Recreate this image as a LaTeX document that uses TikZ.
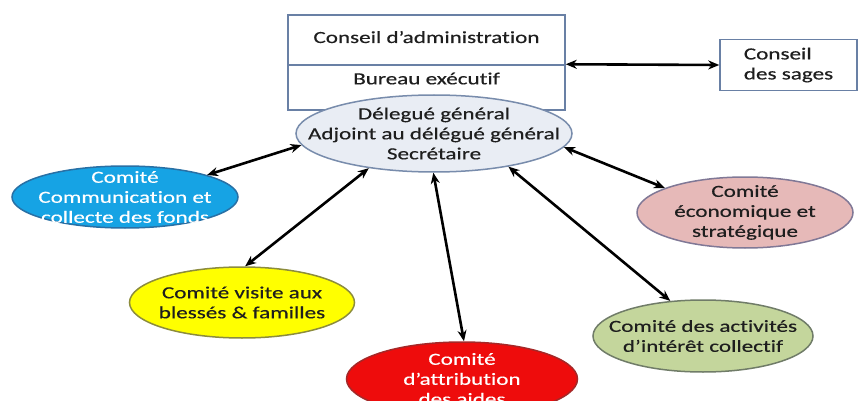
\documentclass[tikz,border=0pt]{standalone}
\usepackage{fontspec}
\setmainfont{Carlito}[FakeStretch=1.36, FakeBold=0.4, Ligatures=CommonOff]
\usetikzlibrary{shapes.geometric,arrows.meta}
\definecolor{boxline}{RGB}{105,128,165}
\definecolor{cenfill}{RGB}{233,237,244}
\definecolor{cenline}{RGB}{120,140,172}
\definecolor{bluefill}{RGB}{22,163,228}
\definecolor{blueline}{RGB}{40,112,165}
\definecolor{yelfill}{RGB}{255,255,0}
\definecolor{yelline}{RGB}{140,140,60}
\definecolor{redfill}{RGB}{238,12,12}
\definecolor{redline}{RGB}{165,40,40}
\definecolor{grnfill}{RGB}{196,214,156}
\definecolor{grnline}{RGB}{112,124,104}
\definecolor{pnkfill}{RGB}{230,185,184}
\definecolor{pnkline}{RGB}{128,120,150}
\definecolor{txtdark}{RGB}{30,30,30}
\begin{document}
\begin{tikzpicture}[x=1pt,y=-1pt,
  every node/.style={font=\fontsize{17}{20}\selectfont, text=txtdark},
  boxst/.style={draw=boxline, line width=1.5pt, fill=white, rectangle, inner sep=0pt},
  ell/.style={ellipse, line width=1.5pt, align=center, inner xsep=-40pt, inner ysep=-25pt},
  arr/.style={{Stealth[length=11pt,width=9pt]}-{Stealth[length=11pt,width=9pt]}, line width=2.6pt, black}]
\clip (0,0) rectangle (867,401);
\fill[white] (0,0) rectangle (867,401);
% top boxes
\node[boxst, minimum width=277pt, minimum height=50pt, text depth=6pt] (ca) at (426.5,40) {Conseil d’administration};
\node[boxst, minimum width=277pt, minimum height=45pt, text depth=18pt] (be) at (426.5,87.5) {Bureau exécutif};
\node[boxst, minimum width=137pt, minimum height=51pt, align=left] (sg) at (788.5,65) {Conseil\\des sages};
% central ellipse
\node[ell, draw=cenline, fill=cenfill, minimum width=276pt, minimum height=77pt] (cen) at (434,133.5)
  {Délegué général\\Adjoint au délégué général\\Secrétaire};
% committees
\node[ell, draw=blueline, fill=bluefill, text=white, minimum width=226pt, minimum height=62pt] (blu) at (125,197)
  {Comité\\Communication et\\collecte des fonds};
\node[ell, draw=yelline, fill=yelfill, minimum width=225pt, minimum height=71pt] (yel) at (242,302.5)
  {Comité visite aux\\blessés \& familles};
\node[ell, draw=redline, fill=redfill, text=white, minimum width=231pt, minimum height=74pt] (red) at (462,379)
  {Comité\\d’attribution\\des aides};
\node[ell, draw=grnline, fill=grnfill, minimum width=220pt, minimum height=72pt] (grn) at (703,336)
  {Comité des activités\\d’intérêt collectif};
\node[ell, draw=pnkline, fill=pnkfill, minimum width=216pt, minimum height=71pt] (pnk) at (745,212.5)
  {Comité\\économique et\\stratégique};
% connectors
\draw[arr] (be.north east) -- (sg.west);
\draw[arr] (blu.15) -- (cen.185);
\draw[arr] (yel.85) -- (cen.208);
\draw[arr] (red.87) -- (cen.269);
\draw[arr] (grn.133) -- (cen.336);
\draw[arr] (pnk.163) -- (cen.354);
\end{tikzpicture}
\end{document}
